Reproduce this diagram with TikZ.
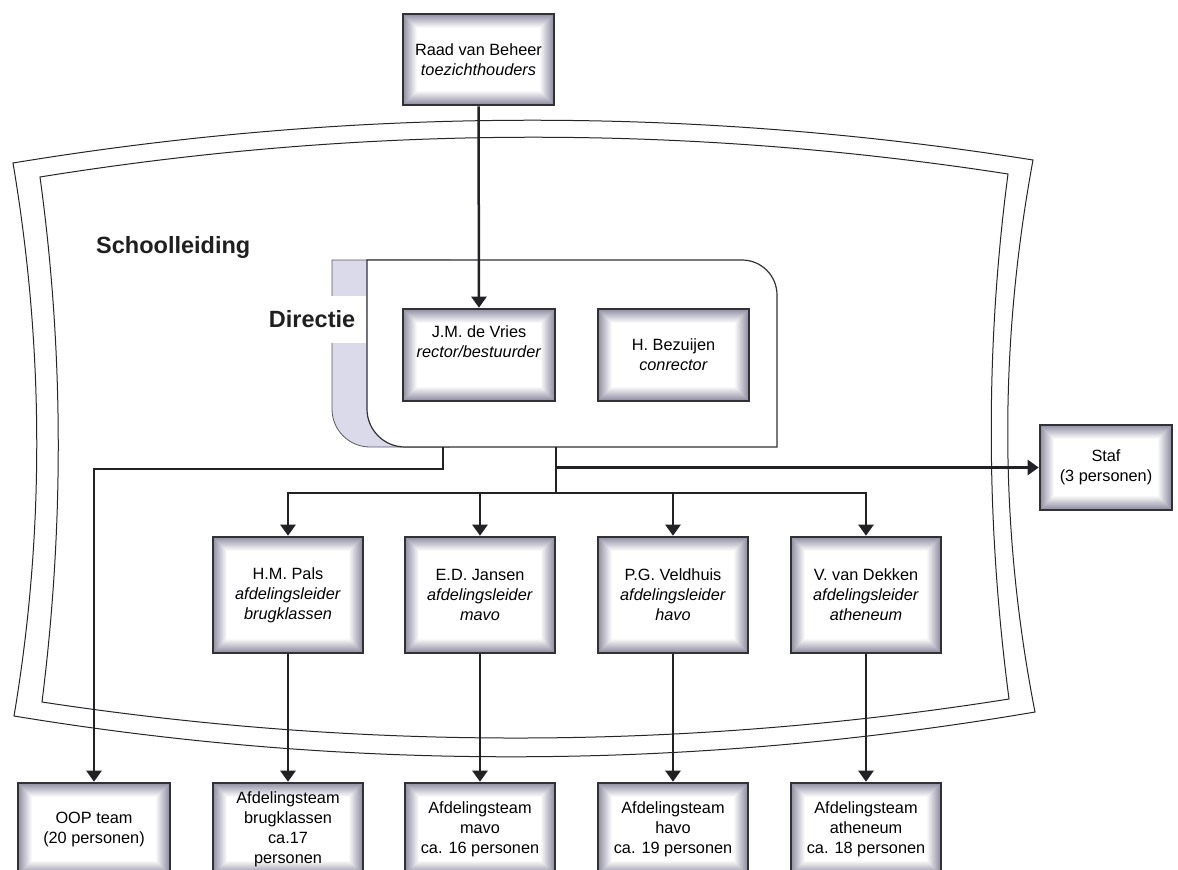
\documentclass[tikz,border=0pt]{standalone}
\usepackage{fontspec}
\setmainfont{Liberation Sans}
\usetikzlibrary{arrows.meta}
\definecolor{glowc}{RGB}{112,110,136}
\definecolor{boxline}{RGB}{50,50,54}
\definecolor{linec}{RGB}{34,34,38}
\definecolor{lav}{RGB}{218,218,234}
\definecolor{lavline}{RGB}{90,90,100}
\newcommand{\boxfont}{\fontsize{16.3}{20}\selectfont}
\tikzset{
  glowframe/.style={path picture={
    \foreach \k in {0,...,13}{
      \pgfmathsetmacro{\off}{0.5+1.0*\k}
      \pgfmathsetmacro{\pc}{int(78-5.6*\k)}
      \draw[line width=1.2pt, draw=glowc!\pc!white]
        ([xshift=\off pt, yshift=\off pt]path picture bounding box.south west)
        rectangle ([xshift=-\off pt, yshift=-\off pt]path picture bounding box.north east);
    }}},
  gbox/.style={draw=boxline, line width=2.6pt, fill=white, glowframe, align=center, font=\boxfont, inner sep=2pt},
  arr/.style={draw=linec, line width=2.5pt, -{Triangle[width=15pt,length=11pt]}},
  ln/.style={draw=linec, line width=2.5pt},
  frameline/.style={draw=black!85, line width=1pt},
  title/.style={font=\fontsize{23.5}{26}\selectfont\bfseries, text=black!88},
}
\begin{document}
\begin{tikzpicture}[x=1pt,y=-1pt]
\useasboundingbox (0,0) rectangle (1178,870);
\clip (0,0) rectangle (1178,870);
\fill[white] (0,0) rectangle (1178,870);

% Schoolleiding frame
\path[frameline] (13,163) .. controls (353,107) and (693,106) .. (1033,160)
  .. controls (999,344) and (999,528) .. (1035,712)
  .. controls (695,770) and (354,772) .. (14,716)
  .. controls (45,532) and (44,347) .. cycle;
\path[frameline] (40,177) .. controls (363,125) and (685,124) .. (1008,174)
  .. controls (985,349) and (986,524) .. (1009,699)
  .. controls (687,750) and (364,751) .. (42,702)
  .. controls (64,527) and (64,352) .. cycle;

\node[title, anchor=west, inner sep=0pt] (school) at (96,247) {Schoolleiding};

% Directie
\path[draw=lavline, line width=0.8pt, fill=lav] (450,260) -- (332,260) -- (332,409)
  .. controls (332,430) and (349,447) .. (370,447) -- (450,447);
\node[title, anchor=east, fill=white, minimum height=47pt, inner xsep=11pt, inner ysep=0pt] (directie) at (366.4,319) {Directie};
\path[draw=boxline, line width=1.2pt, fill=white] (367,260) -- (742,260)
  .. controls (761.3,260) and (777,275.7) .. (777,295) -- (777,447) -- (405,447)
  .. controls (384,447) and (367,430) .. (367,409) -- cycle;
\coordinate (dirL) at (443,447);
\coordinate (dirR) at (556,447);
\coordinate (j1) at (443,469);
\coordinate (bus) at (556,493);

% boxes
\node[gbox, minimum width=151pt, minimum height=91pt] (raad) at (478.5,59.5)
  {Raad van Beheer\\ \textit{toezichthouders}};
\node[gbox, minimum width=152pt, minimum height=92pt] (jm) at (479,355)
  {J.M. de Vries\\ \textit{rector/bestuurder}\\ \strut};
\node[gbox, minimum width=151pt, minimum height=92pt] (bez) at (673.5,355)
  {H. Bezuijen\\ \textit{conrector}};
\node[gbox, minimum width=132pt, minimum height=85pt] (staf) at (1106,467.5)
  {Staf\\ (3 personen)};

\node[gbox, minimum width=150pt, minimum height=116pt] (pals) at (288,595)
  {H.M. Pals\\ \textit{afdelingsleider}\\ \textit{brugklassen}};
\node[gbox, minimum width=150pt, minimum height=116pt] (jansen) at (480,595)
  {E.D. Jansen\\ \textit{afdelingsleider}\\ \textit{mavo}};
\node[gbox, minimum width=150pt, minimum height=116pt] (veld) at (673,595)
  {P.G. Veldhuis\\ \textit{afdelingsleider}\\ \textit{havo}};
\node[gbox, minimum width=150pt, minimum height=116pt] (dekken) at (866,595)
  {V. van Dekken\\ \textit{afdelingsleider}\\ \textit{atheneum}};

\node[gbox, minimum width=152pt, minimum height=92pt] (oop) at (94,829)
  {OOP team\\ (20 personen)};
\node[gbox, minimum width=150pt, minimum height=92pt] (tb) at (288,829)
  {Afdelingsteam\\ brugklassen\\ ca.17\\ personen};
\node[gbox, minimum width=150pt, minimum height=92pt] (tm) at (480,829)
  {Afdelingsteam\\ mavo\\ ca. 16 personen};
\node[gbox, minimum width=150pt, minimum height=92pt] (th) at (673,829)
  {Afdelingsteam\\ havo\\ ca. 19 personen};
\node[gbox, minimum width=150pt, minimum height=92pt] (ta) at (866,829)
  {Afdelingsteam\\ atheneum\\ ca. 18 personen};

% connectors
\draw[arr] (raad.south) -- (jm.north);
\draw[arr] (dirL) -- (j1) -| (oop.north);
\draw[arr] (dirR) |- (staf.west);
\draw[ln] (dirR) -- (bus);
\draw[arr] (bus) -| (pals.north);
\draw[arr] (bus) -| (jansen.north);
\draw[arr] (bus) -| (veld.north);
\draw[arr] (bus) -| (dekken.north);
\draw[arr] (pals.south) -- (tb.north);
\draw[arr] (jansen.south) -- (tm.north);
\draw[arr] (veld.south) -- (th.north);
\draw[arr] (dekken.south) -- (ta.north);
\end{tikzpicture}
\end{document}
